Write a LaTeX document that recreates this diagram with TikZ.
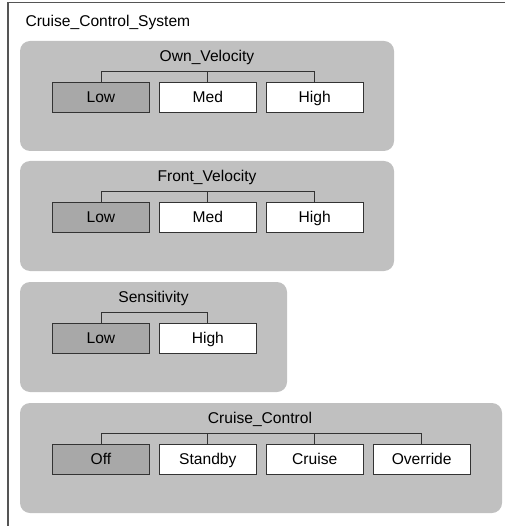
\documentclass[tikz,border=0pt]{standalone}
\usepackage{fontspec}
\setmainfont{Liberation Sans}
\usetikzlibrary{positioning}
\definecolor{panelgray}{HTML}{C0C0C0}
\definecolor{lowgray}{HTML}{A8A8A8}
\definecolor{framegray}{HTML}{555555}

\begin{document}
\begin{tikzpicture}[x=1pt, y=-1pt,
		every node/.style={font=\fontsize{15.6}{18}\selectfont},
		panel/.style={fill=panelgray, rounded corners=10pt},
		state/.style={draw=black!80, fill=white, line width=0.9pt, minimum width=97pt, minimum height=30pt, inner sep=0pt, text height=11pt, text depth=0pt},
		initial/.style={state, fill=lowgray},
		bar/.style={draw=black!80, line width=0.9pt}]
		\useasboundingbox (0,0) rectangle (505,526);
		\draw [framegray, line width=1.2pt] (8,526) -- (8,2.5) -- (505,2.5);
		\node [anchor=base west] (sys) at (22,27) {Cruise\_Control\_System};
		% own velocity
		\fill [panel] (20,41) rectangle (394,151);
		\node [anchor=base] (ownv) at (207,62) {Own\_Velocity};
		\node [initial, anchor=north west] (ownlow) at (52,82) {Low};
		\node [state, right=9pt of ownlow] (ownmed) {Med};
		\node [state, right=9pt of ownmed] (ownhigh) {High};
		\draw [bar] (ownlow.north) -- ++(0pt,11pt) -| (ownhigh.north);
		\draw [bar] (ownmed.north) -- ++(0pt,11pt);
		% front velocity
		\fill [panel] (20,161) rectangle (394,271);
		\node [anchor=base] (frontv) at (207,182) {Front\_Velocity};
		\node [initial, anchor=north west] (frontlow) at (52,202) {Low};
		\node [state, right=9pt of frontlow] (frontmed) {Med};
		\node [state, right=9pt of frontmed] (fronthigh) {High};
		\draw [bar] (frontlow.north) -- ++(0pt,11pt) -| (fronthigh.north);
		\draw [bar] (frontmed.north) -- ++(0pt,11pt);
		% sensitivity
		\fill [panel] (20,282) rectangle (287,392);
		\node [anchor=base] (sens) at (153.5,302) {Sensitivity};
		\node [initial, anchor=north west] (senslow) at (52,323) {Low};
		\node [state, right=9pt of senslow] (senshigh) {High};
		\draw [bar] (senslow.north) -- ++(0pt,11pt) -| (senshigh.north);
		% cruise control
		\fill [panel] (20,403) rectangle (502,513);
		\node [anchor=base] (cc) at (260,423) {Cruise\_Control};
		\node [initial, anchor=north west] (ccoff) at (52,444) {Off};
		\node [state, right=9pt of ccoff] (ccstandby) {Standby};
		\node [state, right=9pt of ccstandby] (cccruise) {Cruise};
		\node [state, right=9pt of cccruise] (ccoverride) {Override};
		\draw [bar] (ccoff.north) -- ++(0pt,11pt) -| (ccoverride.north);
		\draw [bar] (ccstandby.north) -- ++(0pt,11pt);
		\draw [bar] (cccruise.north) -- ++(0pt,11pt);
	\end{tikzpicture}
\end{document}
